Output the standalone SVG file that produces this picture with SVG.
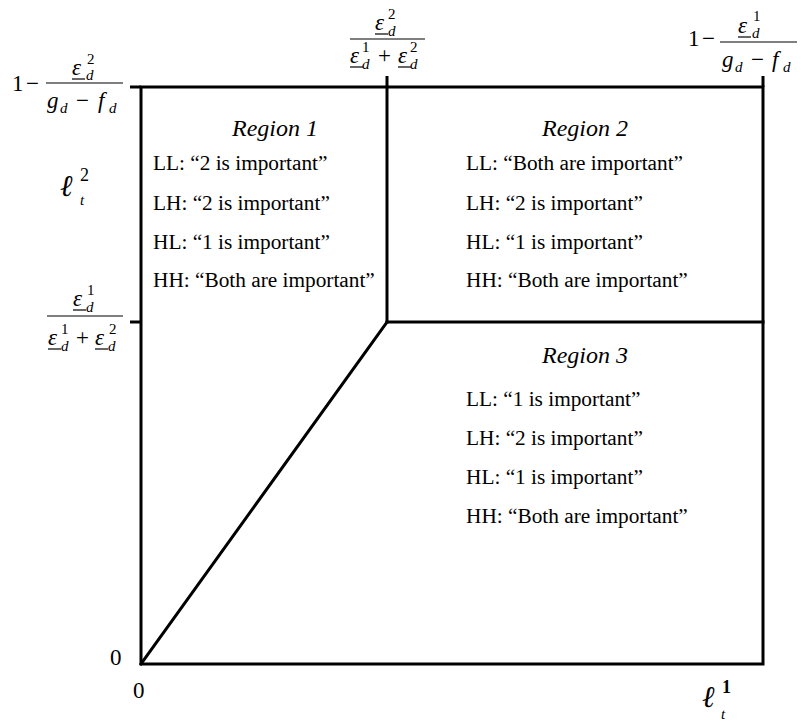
<svg xmlns="http://www.w3.org/2000/svg" width="801" height="724" viewBox="0 0 801 724">
<style>
.ln{stroke:#000;stroke-width:3;fill:none;stroke-linecap:square}
.tk{stroke:#000;stroke-width:3;fill:none}
.t{font-family:"Liberation Serif","Times New Roman",serif;font-size:21.3px;fill:#000}
.ti{font-family:"Liberation Serif","Times New Roman",serif;font-size:24px;font-style:italic;fill:#000}
.m{font-family:"Liberation Serif","Times New Roman",serif;font-size:23px;fill:#000}
.mi{font-family:"Liberation Serif","Times New Roman",serif;font-size:23px;font-style:italic;fill:#000}
.s{font-family:"Liberation Serif","Times New Roman",serif;font-size:15px;fill:#000}
.si{font-family:"Liberation Serif","Times New Roman",serif;font-size:15px;font-style:italic;fill:#000}
.ell{font-family:"DejaVu Serif","Liberation Serif",serif;font-size:30px;font-style:italic;fill:#000}
.es{font-family:"Liberation Serif","Times New Roman",serif;font-size:18px;fill:#000}
.bar{stroke:#000;stroke-width:1.2}
</style>
<rect width="801" height="724" fill="#fff"/>
<g id="connectors">
<rect class="ln" x="141" y="87" width="622" height="577"/>
<line class="ln" x1="387" y1="87" x2="387" y2="322"/>
<line class="ln" x1="387" y1="322" x2="763" y2="322"/>
<line class="ln" x1="141" y1="664" x2="387" y2="322"/>
<line class="tk" x1="130" y1="87" x2="141" y2="87"/>
<line class="tk" x1="130" y1="322" x2="141" y2="322"/>
<line class="tk" x1="387" y1="76" x2="387" y2="87"/>
<line class="tk" x1="763" y1="76" x2="763" y2="87"/>
</g>
<g id="region1">
<text class="ti" x="275" y="136" text-anchor="middle">Region 1</text>
<text class="t" x="153" y="170">LL: “2 is important”</text>
<text class="t" x="153" y="210">LH: “2 is important”</text>
<text class="t" x="153" y="249">HL: “1 is important”</text>
<text class="t" x="153" y="287">HH: “Both are important”</text>
</g>
<g id="region2">
<text class="ti" x="585" y="136" text-anchor="middle">Region 2</text>
<text class="t" x="466" y="170">LL: “Both are important”</text>
<text class="t" x="466" y="210">LH: “2 is important”</text>
<text class="t" x="466" y="249">HL: “1 is important”</text>
<text class="t" x="466" y="287">HH: “Both are important”</text>
</g>
<g id="region3">
<text class="ti" x="585" y="363" text-anchor="middle">Region 3</text>
<text class="t" x="466" y="406">LL: “1 is important”</text>
<text class="t" x="466" y="445">LH: “2 is important”</text>
<text class="t" x="466" y="484">HL: “1 is important”</text>
<text class="t" x="466" y="523">HH: “Both are important”</text>
</g>
<g id="label-top-left">
<text class="m" x="12" y="91">1</text>
<text class="m" x="26" y="91">−</text>
<line class="bar" x1="46" y1="83" x2="123" y2="83"/>
<text class="mi" x="72" y="75">ε</text>
<line class="bar" x1="72" y1="79" x2="85" y2="79"/>
<text class="s" x="87" y="64">2</text>
<text class="si" x="86" y="80">d</text>
<text class="mi" x="47" y="108">g</text>
<text class="si" x="60" y="113">d</text>
<text class="m" x="76" y="108">−</text>
<text class="mi" x="98" y="108">f</text>
<text class="si" x="109" y="113">d</text>
</g>
<g id="label-top-mid">
<line class="bar" x1="350" y1="39" x2="425" y2="39"/>
<text class="mi" x="375" y="30">ε</text>
<line class="bar" x1="375" y1="34" x2="388" y2="34"/>
<text class="s" x="388" y="19">2</text>
<text class="si" x="388" y="36">d</text>
<text class="mi" x="350" y="63">ε</text>
<line class="bar" x1="350" y1="67" x2="363" y2="67"/>
<text class="s" x="362" y="52">1</text>
<text class="si" x="362" y="69">d</text>
<text class="m" x="378" y="63">+</text>
<text class="mi" x="398" y="63">ε</text>
<line class="bar" x1="398" y1="67" x2="411" y2="67"/>
<text class="s" x="410" y="52">2</text>
<text class="si" x="410" y="69">d</text>
</g>
<g id="label-top-right">
<text class="m" x="688" y="46">1</text>
<text class="m" x="702" y="46">−</text>
<line class="bar" x1="720" y1="42" x2="797" y2="42"/>
<text class="mi" x="738" y="33">ε</text>
<line class="bar" x1="738" y1="37" x2="751" y2="37"/>
<text class="s" x="753" y="21">1</text>
<text class="si" x="752" y="38">d</text>
<text class="mi" x="722" y="67">g</text>
<text class="si" x="735" y="72">d</text>
<text class="m" x="751" y="67">−</text>
<text class="mi" x="772" y="67">f</text>
<text class="si" x="783" y="72">d</text>
</g>
<g id="label-left-mid">
<line class="bar" x1="47" y1="316" x2="123" y2="316"/>
<text class="mi" x="73" y="306">ε</text>
<line class="bar" x1="73" y1="310" x2="86" y2="310"/>
<text class="s" x="87" y="295">1</text>
<text class="si" x="86" y="312">d</text>
<text class="mi" x="48" y="345">ε</text>
<line class="bar" x1="48" y1="349" x2="61" y2="349"/>
<text class="s" x="61" y="334">1</text>
<text class="si" x="61" y="351">d</text>
<text class="m" x="76" y="345">+</text>
<text class="mi" x="95" y="345">ε</text>
<line class="bar" x1="95" y1="349" x2="108" y2="349"/>
<text class="s" x="109" y="334">2</text>
<text class="si" x="108" y="351">d</text>
</g>
<g id="axis-y">
<text class="ell" x="60" y="196">ℓ</text>
<text class="es" x="80" y="181">2</text>
<text class="si" x="80" y="205">t</text>
<text class="m" x="110" y="665">0</text>
</g>
<g id="axis-x">
<text class="ell" x="702" y="707">ℓ</text>
<text class="es" x="722" y="693" style="font-weight:bold">1</text>
<text class="si" x="721" y="719">t</text>
<text class="m" x="133" y="698">0</text>
</g>
</svg>
